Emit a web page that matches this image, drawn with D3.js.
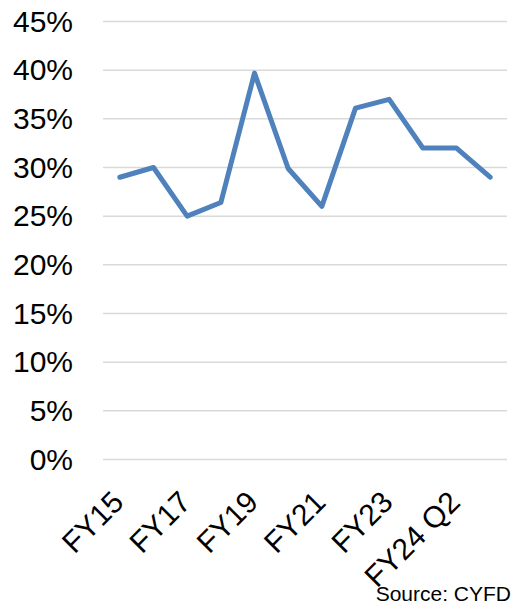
<!DOCTYPE html>
<html>
<head>
<meta charset="utf-8">
<script src="https://cdn.jsdelivr.net/npm/d3@7"></script>
<style>
  body { margin: 0; background: #fff; }
  text { font-family: Arial, "Liberation Sans", sans-serif; fill: #000; }
</style>
</head>
<body>
<div class="chart"></div>
<script>
// DATA ------------------------------
const categories = ["FY15", "FY16", "FY17", "FY18", "FY19", "FY20", "FY21", "FY22", "FY23", "FY24 Q1", "FY24 Q2", "FY24 Q3"];
const values = [0.29, 0.30, 0.25, 0.264, 0.397, 0.299, 0.26, 0.361, 0.37, 0.32, 0.32, 0.29];
const yTicks = [0, 0.05, 0.10, 0.15, 0.20, 0.25, 0.30, 0.35, 0.40, 0.45];
const shownLabels = ["FY15", "FY17", "FY19", "FY21", "FY23", "FY24 Q2"];

// CHART INIT ------------------------------
const W = 514, H = 605;
const margin = ({top: 21.5, right: 7, bottom: 145.5, left: 103});
const w = W - margin.left - margin.right,
      h = H - margin.top - margin.bottom;

const svg = d3.select(".chart")
    .append("svg")
    .attr("width", W)
    .attr("height", H)
    .append("g")
    .attr("transform", "translate(" + margin.left + "," + margin.top + ")");

const xScale = d3.scaleBand()
    .domain(categories)
    .range([0, w]);

const yScale = d3.scaleLinear()
    .domain([0, 0.45])
    .range([h, 0]);

// gridlines
svg.append("g")
    .selectAll("line")
    .data(yTicks)
    .join("line")
    .attr("x1", 0)
    .attr("x2", w)
    .attr("y1", d => yScale(d))
    .attr("y2", d => yScale(d))
    .attr("stroke", "#d9d9d9")
    .attr("stroke-width", 1.5);

// y axis
const yAxis = d3.axisLeft(yScale)
    .tickValues(yTicks)
    .tickFormat(d3.format(".0%"))
    .tickSize(0)
    .tickPadding(30);

svg.append("g")
    .attr("class", "axis y-axis")
    .call(yAxis)
    .call(g => g.select(".domain").remove())
    .selectAll("text")
    .attr("font-size", 30)
    .attr("font-family", "Arial, 'Liberation Sans', sans-serif");

// x axis labels, rotated
svg.append("g")
    .attr("class", "axis x-axis")
    .selectAll("text")
    .data(shownLabels)
    .join("text")
    .attr("text-anchor", "end")
    .attr("font-size", 30)
    .attr("dy", "0.35em")
    .attr("transform", d => `translate(${xScale(d) + xScale.bandwidth() / 2 - 2}, ${h + 37}) rotate(-45)`)
    .text(d => d);

// line
const line = d3.line()
    .x((d, i) => xScale(categories[i]) + xScale.bandwidth() / 2)
    .y(d => yScale(d));

svg.append("path")
    .datum(values)
    .attr("d", line)
    .attr("fill", "none")
    .attr("stroke", "#4f81bd")
    .attr("stroke-width", 5)
    .attr("stroke-linejoin", "round")
    .attr("stroke-linecap", "round");

// source note
d3.select("svg").append("text")
    .attr("x", 511)
    .attr("y", 601)
    .attr("text-anchor", "end")
    .attr("font-size", 21)
    .text("Source: CYFD");
</script>
</body>
</html>
